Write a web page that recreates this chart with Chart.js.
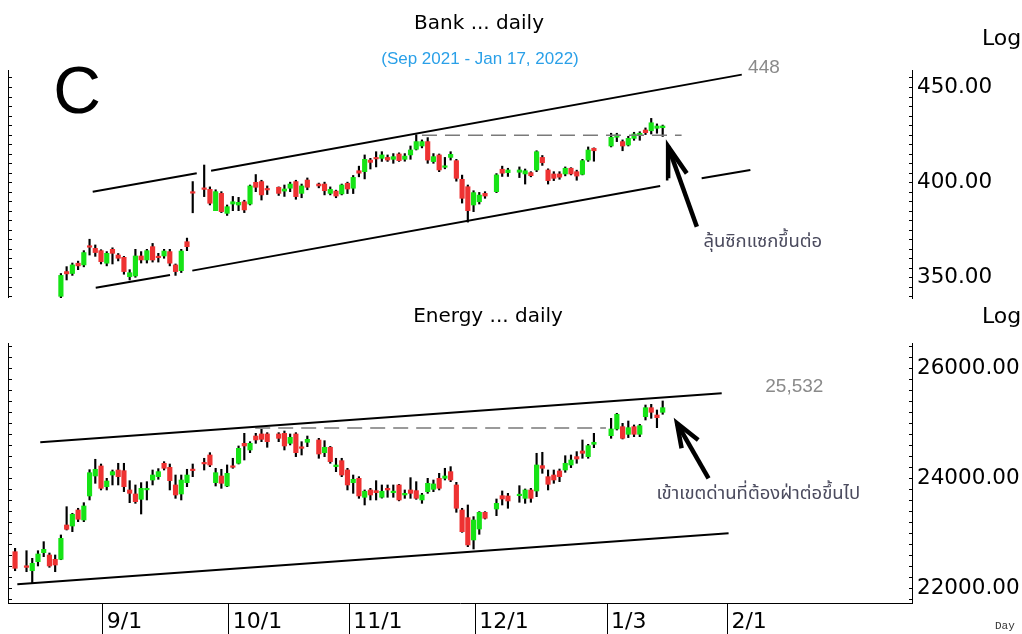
<!DOCTYPE html>
<html>
<head>
<meta charset="utf-8">
<script src="https://cdn.jsdelivr.net/npm/chart.js@4.4.1/dist/chart.umd.min.js"></script>
<style>
body{margin:0;background:#fff;width:1022px;height:634px;overflow:hidden;position:relative;font-family:'DejaVu Sans',sans-serif;color:#000}
canvas{position:absolute;left:0}
#bankchart{top:0}
#energychart{top:305px}
.t{position:absolute;white-space:nowrap;line-height:1}
.c{transform:translate(-50%,-50%)}
.l{transform:translate(0,-50%)}
</style>
</head>
<body>
<canvas id="bankchart" width="1022" height="305"></canvas>
<canvas id="energychart" width="1022" height="329"></canvas>

<div class="t c" style="left:479px;top:22px;font-size:20px">Bank ... daily</div>
<div class="t c" style="left:480px;top:58px;font-size:17px;font-family:'Liberation Sans',sans-serif;color:#2aa0e8">(Sep 2021 - Jan 17, 2022)</div>
<div class="t c" style="left:77px;top:90px;font-size:66px;font-family:'Liberation Sans',sans-serif">C</div>
<div class="t l" style="left:982px;top:38px;font-size:22px">Log</div>
<div class="t c" style="left:488px;top:315px;font-size:20px">Energy ... daily</div>
<div class="t l" style="left:982px;top:316px;font-size:22px">Log</div>
<div class="t l" style="left:995px;top:626px;font-size:11px;font-family:'Liberation Mono',monospace;color:#333">Day</div>

<script>
// trading days MM-DD (Aug..Dec = 2021, Jan = 2022)
var days = ['08-11','08-13','08-16','08-17','08-18','08-19','08-20',
  '08-23','08-24','08-25','08-26','08-27','08-30','08-31',
  '09-01','09-02','09-03','09-06','09-07','09-08','09-09','09-10','09-13','09-14','09-15','09-16','09-17','09-20','09-21','09-22','09-23',
  '09-27','09-28','09-29','09-30','10-01','10-04','10-05','10-06','10-07','10-08','10-11','10-12',
  '10-14','10-15','10-18','10-19','10-20','10-21',
  '10-25','10-26','10-27','10-28','10-29','11-01','11-02','11-03','11-04','11-05','11-08','11-09','11-10','11-11','11-12',
  '11-15','11-16','11-17','11-18','11-19','11-22','11-23','11-24','11-25','11-26','11-29','11-30','12-01','12-02','12-03',
  '12-07','12-08','12-09',
  '12-13','12-14','12-15','12-16','12-17','12-20','12-21','12-22','12-23','12-24','12-27','12-28','12-29','12-30',
  '01-04','01-05','01-06','01-07','01-10','01-11','01-12','01-13','01-14','01-17'];

var monthDays = ['09-01','10-01','11-01','12-01','01-03','02-01'];
var monthLabels = ['9/1','10/1','11/1','12/1','1/3','2/1'];

// Energy index, all days
var energyOpen = [22666,22410,22320,22484,22648,22606,22527,
  22527,23151,23133,23424,23242,23679,24042,
  24224,23848,24060,24151,24139,23788,23715,23618,23790,23969,24030,24273,24200,23879,23715,23921,24160,
  24285,24424,23921,24042,23860,24224,24273,24636,24515,24769,24806,24806,
  24806,24818,24636,24806,24564,24655,
  24697,24466,24564,24212,24321,24151,23921,24000,23655,23788,23776,23655,23818,23739,23879,
  23697,23788,23776,23606,23757,23800,24000,24000,24121,23879,23424,23285,22879,23078,23382,
  23442,23684,23679,
  23684,23636,23788,23770,24230,24030,24060,24133,24151,24242,24394,24497,24394,24618,
  24775,24897,24939,24800,24939,24800,25120,25284,25151,25200];
var energyHigh = [22727,22684,22545,22684,22848,22642,22606,
  22970,23484,23364,23455,23557,24157,24346,
  24260,24000,24151,24273,24273,23957,23879,23921,23939,24151,24176,24303,24260,24060,24060,24164,24260,
  24364,24466,24182,24164,24243,24364,24588,24818,24666,24818,24891,24830,
  24830,24860,24806,24830,24666,24769,
  24727,24684,24580,24364,24364,24182,24060,24030,23788,23818,23957,23879,23879,23879,23890,
  23788,24012,23939,23727,24000,23969,24091,24182,24212,23927,23455,23515,23303,23394,23394,
  23624,23770,23727,
  23866,23806,23818,24455,24473,24151,24151,24169,24411,24424,24485,24697,24618,24818,
  25091,25182,25000,25042,24970,24982,25333,25345,25242,25406];
var energyLow = [22320,22302,22091,22406,22575,22382,22302,
  22520,23060,23030,23212,23212,23606,23909,
  23788,23788,23879,23879,23758,23557,23545,23351,23606,23879,23982,24151,23788,23636,23606,23848,24030,
  24151,24212,23860,23818,23848,24182,24260,24333,24466,24636,24666,24564,
  24666,24515,24606,24394,24424,24575,
  24364,24394,24273,24121,24030,23788,23727,23636,23515,23606,23606,23640,23655,23655,23590,
  23636,23636,23618,23545,23727,23757,23788,23969,23939,23382,23018,22757,22715,22982,23260,
  23321,23515,23455,
  23564,23545,23564,23666,24091,23788,23909,23939,24109,24194,24273,24364,24364,24557,
  24727,24878,24715,24740,24757,24757,25060,25091,24921,25164];
var energyClose = [22364,22380,22455,22624,22709,22406,22424,
  22909,23073,23346,23255,23497,24102,24164,
  23818,23951,24121,24030,23848,23727,23575,23818,23815,24060,24121,24182,23957,23697,23969,24060,24140,
  24262,24242,24102,23909,24091,24200,24545,24588,24636,24697,24709,24666,
  24727,24588,24745,24466,24545,24709,
  24442,24564,24303,24242,24060,23879,23982,23679,23764,23697,23739,23764,23788,23764,23606,
  23727,23727,23636,23697,23909,23897,23818,24042,23969,23455,23030,22788,23242,23382,23273,
  23545,23624,23588,
  23709,23788,23636,24242,24182,23891,23969,24030,24273,24333,24351,24455,24594,24655,
  24897,25164,24727,24921,24800,24957,25284,25200,25102,25284];

// Bank index, from 08-23 on
var bankOpen = [340,353,352,357.4,356.5,366.5,365.2,
  364,357.4,364.7,361.7,360.5,350.3,350.7,361.2,359.1,366.1,360.8,361.2,363.5,356.5,353.5,368.7,394.8,
  396.6,396.2,385,394.1,383.6,388.5,388,389.7,388.5,399.9,400.3,396.5,
  397.3,395.3,396.8,400.3,394.1,401.1,
  399,399,394.1,395.3,393.8,399.4,396.8,406,405.5,411.6,412.8,412.5,413,412,414.8,
  412,414.3,417.3,419,421.3,410.8,414.3,407.8,413,411.3,401.5,397.6,388,389.7,394.1,
  395,406.8,405,
  405.2,404.3,405,406.4,413,406.4,404.3,404.3,404.3,407.3,405.5,404.1,411.6,417.8,
  419,423.6,421.3,419.5,423,424.8,427.4,427,428.3,428.6];
var bankHigh = [352,355.6,357.5,358.5,364,370,367,
  364.5,363.5,365.5,362.5,361,354,364.7,363.5,364.7,367.8,362.6,364.7,364.7,357,364.7,370.6,400.3,
  409,397.5,396,395,388,392.5,392,390.5,398.5,404,401,398,
  397.5,398.5,400,401,399,402.2,
  399.5,400,397.5,395.8,399,400,403.5,408.4,414.3,412.5,416,416,414.3,415,415.4,
  415,419,424.9,422.2,423.4,415,414.8,413,416,412,403.7,398.5,395.5,394.6,395,
  404.5,408.4,407.3,
  408,406.9,405.5,416.5,414,407,405.5,405.5,408,407.6,406.3,412,418.5,418,
  425.7,425.7,422.2,424.1,426.2,426.5,428.5,433.5,430.6,430];
var bankLow = [338,348.6,351,354,355.5,361.7,361,
  357,356,357,358.6,351.6,348.6,350,357.5,357.5,358,358,360,356,351,352.5,364,383.9,
  392.4,388,385,384,382.5,385,385,384,388,395,390.6,393.5,
  393,392.5,395,391,391.8,396,
  397,393.3,393.3,391.8,393.3,394,394,402.8,401.7,406.9,408,410.9,410.9,409.9,410.9,
  411,412,416.9,418,409.9,409.9,405.5,407,411.6,400.5,389,379,384.5,388.5,391.5,
  394.5,403,403,
  402.4,399,402.8,405.5,408.8,399,400.8,401.5,403.3,403.8,401,403.8,410.9,411,
  418.5,421.3,416.5,419,422,422,425,425.3,425.7,424];
var bankClose = [351,351.8,356.5,356,363,365.8,363,
  358.2,362.6,362.6,360,353,352.4,361.2,359.1,364,359.1,360.3,363.8,357.4,353,363.8,366.1,394.2,
  396.2,388.9,395,384.5,387.1,389.7,389.4,385.4,398,397.3,393.3,395.9,
  394.1,396.4,399,392.4,398,397.3,
  398,395.5,396.2,392.7,398.5,396.4,402.5,404.7,412,410.4,412.2,414.3,411.6,413.4,411.3,
  413.7,416.9,421.3,421.3,411.6,413.4,406.4,408.5,414.6,402,391.5,385,394.5,393.2,392.7,
  403.8,404.7,406.4,
  406.4,406,403.4,416,410.2,400.8,402,402.6,407.3,404.3,403.2,411.3,416.9,416.5,
  423.6,424.8,419,423,425.3,425.7,426,431.2,429.5,429.5];

// drawn lines as [trading day, price]
var bankUpper1 = [[-1.45, 395.0], [16.7, 404.7]];
var bankUpper2 = [[19.2, 406.0], [111.8, 456.5]];
var bankLower1 = [[-0.92, 344.5], [12.04, 351.2]];
var bankLower2 = [[15.93, 353.5], [97.56, 398.0]];
var bankLower3 = [[104.8, 402.0], [113.3, 406.4]];
var bankResist = [[56, 424.6], [101.3, 424.6]];
var bankArrow = [[103.96, 376.6], [98.95, 418.7]];
var bankArrowHead = [[99.0, 402.0], [98.95, 418.7], [102.2, 404.6]];

var energyUpper = [[-10.6, 24655], [108.3, 25545]];
var energyLower = [[-14.6, 22073], [109.5, 23000]];
var energyResist = [[26.9, 24915], [88.1, 24915]];
var energyArrow = [[106.0, 24000], [100.5, 25000]];
var energyArrowHead = [[101.3, 24546], [100.5, 25000], [104.2, 24697]];

var bankNotes = [
  {text: '448', x: 112.9, y: 460.0, font: "19px 'Liberation Sans', sans-serif", color: '#8a8a8a'},
  {text: 'ลุ้นซิกแซกขึ้นต่อ', x: 105.1, y: 368.0, font: "18.5px 'Noto Sans Thai', 'Noto Sans', sans-serif", color: '#4b4b5e'}
];
var energyNotes = [
  {text: '25,532', x: 115.9, y: 25660, font: "19px 'Liberation Sans', sans-serif", color: '#8a8a8a'},
  {text: 'เข้าเขตด่านที่ต้องฝ่าต่อขึ้นไป', x: 96.9, y: 23697, font: "18.5px 'Noto Sans Thai', 'Noto Sans', sans-serif", color: '#4b4b5e'}
];

var green = '#16e316';
var red = '#ee3232';

// weekday count from 1 Sep 2021
function dayIndex(s) {
    var p = s.split('-'), m = +p[0], d = +p[1];
    var target = Date.UTC(m >= 8 ? 2021 : 2022, m - 1, d);
    var cur = new Date(Date.UTC(2021, 8, 1));
    var dir = target >= cur.getTime() ? 1 : -1, n = 0;
    while (cur.getTime() !== target) {
        cur.setUTCDate(cur.getUTCDate() + dir);
        var wd = cur.getUTCDay();
        if (wd !== 0 && wd !== 6) n += dir;
    }
    return n;
}

var energyX = days.map(dayIndex);
var bankX = energyX.slice(7);
var monthX = monthDays.map(function(d){ return dayIndex(d) + 0.3; });

function candles(x, o, h, l, c) {
    return [{
        type: 'bar',
        data: x.map(function(v, i){ return {x: v, y: [o[i], c[i]]}; }),
        backgroundColor: x.map(function(v, i){ return c[i] >= o[i] ? green : red; }),
        barThickness: 4.5, minBarLength: 1.5, grouped: false, borderWidth: 0, order: 1
    }, {
        type: 'bar',
        data: x.map(function(v, i){ return {x: v, y: [l[i], h[i]]}; }),
        backgroundColor: '#000', barThickness: 1.5, grouped: false, borderWidth: 0, order: 2
    }];
}

function seg(pts, color, width, dash) {
    return {
        type: 'line',
        data: pts.map(function(p){ return {x: p[0], y: p[1]}; }),
        borderColor: color, borderWidth: width, borderDash: dash || [],
        pointRadius: 0, fill: false, tension: 0, order: 0
    };
}

// left axis line + small ticks on both edges
function edgeTicks(step) {
    return {
        id: 'edgeTicks',
        afterDraw: function(chart) {
            var ctx = chart.ctx, a = chart.chartArea, y = chart.scales.y;
            ctx.save();
            ctx.strokeStyle = '#000';
            ctx.lineWidth = 1;
            ctx.beginPath();
            ctx.moveTo(a.left + 0.5, a.top);
            ctx.lineTo(a.left + 0.5, a.bottom);
            for (var v = Math.ceil(y.min / step) * step; v <= y.max; v += step) {
                var py = Math.round(y.getPixelForValue(v)) + 0.5;
                ctx.moveTo(a.left, py); ctx.lineTo(a.left + 4, py);
                ctx.moveTo(a.right - 3, py); ctx.lineTo(a.right, py);
            }
            ctx.stroke();
            ctx.restore();
        }
    };
}

function notes(items) {
    return {
        id: 'notes',
        afterDatasetsDraw: function(chart) {
            var ctx = chart.ctx, xs = chart.scales.x, ys = chart.scales.y;
            ctx.save();
            ctx.textAlign = 'left';
            ctx.textBaseline = 'middle';
            items.forEach(function(n){
                ctx.font = n.font;
                ctx.fillStyle = n.color;
                ctx.fillText(n.text, xs.getPixelForValue(n.x), ys.getPixelForValue(n.y));
            });
            ctx.restore();
        }
    };
}

function makeChart(id, datasets, yMin, yMax, yTicks, step, items, showX, padTop, padBottom) {
    return new Chart(document.getElementById(id).getContext('2d'), {
        type: 'bar',
        data: {datasets: datasets},
        options: {
            responsive: false,
            animation: false,
            events: [],
            layout: {padding: {left: 8, top: padTop, right: 0, bottom: padBottom}},
            plugins: {legend: {display: false}, tooltip: {enabled: false}},
            scales: {
                x: {
                    type: 'linear', min: -16.23, max: 141.5, offset: false,
                    display: showX,
                    afterBuildTicks: function(s){ s.ticks = monthX.map(function(v){ return {value: v}; }); },
                    afterFit: function(s){ if (showX) s.height = 31; },
                    grid: {drawOnChartArea: false, drawTicks: true, tickLength: 31, color: '#000', offset: false},
                    border: {display: true, color: '#000'},
                    ticks: {
                        autoSkip: false, maxRotation: 0, align: 'start', labelOffset: 4, padding: -25,
                        color: '#000', font: {family: 'DejaVu Sans', size: 22},
                        callback: function(v, i){ return monthLabels[i]; }
                    }
                },
                y: {
                    type: 'linear', position: 'right', min: yMin, max: yMax,
                    afterBuildTicks: function(s){ s.ticks = yTicks.map(function(v){ return {value: v}; }); },
                    afterFit: function(s){ s.width = 110; s.paddingTop = 0; s.paddingBottom = 0; },
                    grid: {display: false, drawTicks: false},
                    border: {display: true, color: '#000'},
                    ticks: {
                        padding: 5, color: '#000', font: {family: 'DejaVu Sans', size: 21.5},
                        callback: function(v){ return Number(v).toFixed(2); }
                    }
                }
            }
        },
        plugins: [edgeTicks(step), notes(items)]
    });
}

var bankchart = makeChart('bankchart',
    candles(bankX, bankOpen, bankHigh, bankLow, bankClose).concat([
        seg(bankUpper1, '#000', 2), seg(bankUpper2, '#000', 2),
        seg(bankLower1, '#000', 2), seg(bankLower2, '#000', 2), seg(bankLower3, '#000', 2),
        seg(bankResist, '#7a7a7a', 1.5, [15, 8]),
        seg(bankArrow, '#000', 4.5), seg(bankArrowHead, '#000', 4.5)
    ]),
    339.12, 458.93, [350, 400, 450], 5, bankNotes, false, 70, 7);

var energychart = makeChart('energychart',
    candles(energyX, energyOpen, energyHigh, energyLow, energyClose).concat([
        seg(energyUpper, '#000', 2), seg(energyLower, '#000', 2),
        seg(energyResist, '#7a7a7a', 1.5, [15, 8]),
        seg(energyArrow, '#000', 4.5), seg(energyArrowHead, '#000', 4.5)
    ]),
    21733, 26460, [22000, 24000, 26000], 200, energyNotes, true, 38, 0);
</script>
</body>
</html>
